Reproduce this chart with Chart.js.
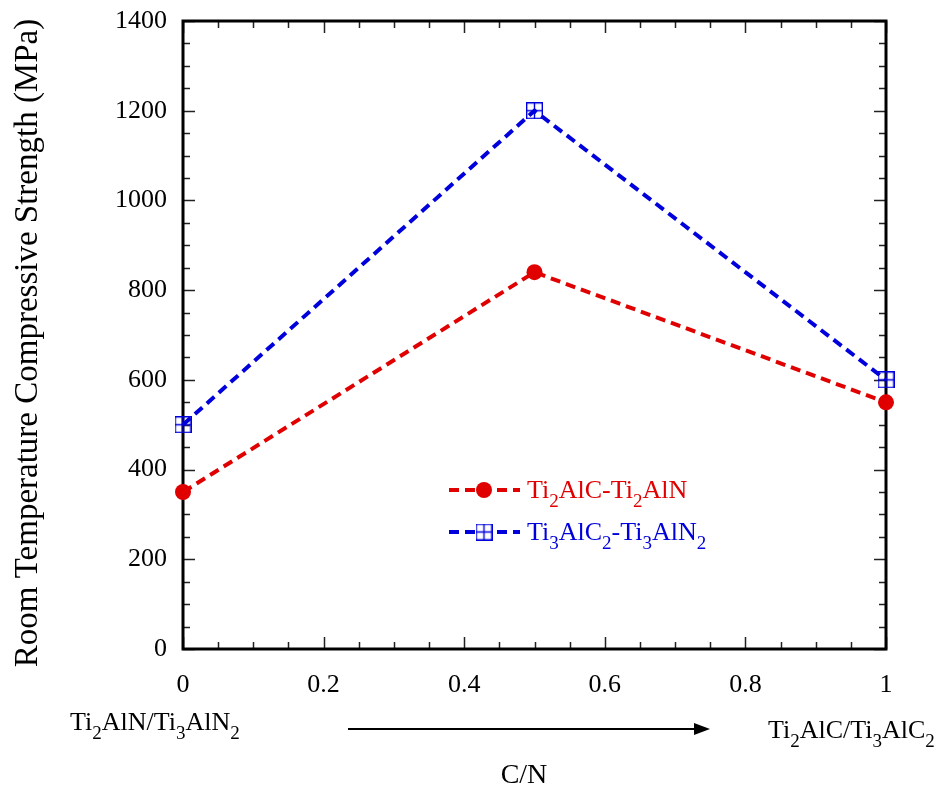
<!DOCTYPE html>
<html>
<head>
<meta charset="utf-8">
<script src="https://cdn.jsdelivr.net/npm/chart.js@4.4.1/dist/chart.umd.min.js"></script>
<style>
  html, body { margin: 0; padding: 0; background: #fff; }
  #wrap { width: 943px; height: 791px; position: relative; }
</style>
</head>
<body>
<div id="wrap"><canvas id="c" width="943" height="791"></canvas></div>
<script>
// C/N ratio along the solid-solution series
const cnRatio = [0, 0.5, 1];
// Room temperature compressive strength, MPa
const strength211 = [350, 840, 550];
const strength312 = [500, 1200, 600];
// Series names; "_d" marks a subscript digit
const seriesNames = ['Ti_2AlC-Ti_2AlN', 'Ti_3AlC_2-Ti_3AlN_2'];
// End-member labels under the x axis
const endLabels = ['Ti_2AlN/Ti_3AlN_2', 'Ti_2AlC/Ti_3AlC_2'];
const xTitle = 'C/N';
const yTitle = 'Room Temperature Compressive Strength (MPa)';

const FONT = '"Liberation Serif", "Times New Roman", serif';
const RED = '#e00000';
const BLUE = '#0000dd';

// open square split into four cells
function gridSquare(size, color) {
  const cv = document.createElement('canvas');
  cv.width = size; cv.height = size;
  const g = cv.getContext('2d');
  g.strokeStyle = color; g.lineWidth = 1.4;
  const a = 0.7, b = size - 0.7, m = size / 2;
  g.strokeRect(a, a, b - a, b - a);
  g.beginPath();
  g.moveTo(m, a); g.lineTo(m, b);
  g.moveTo(a, m); g.lineTo(b, m);
  g.stroke();
  return cv;
}
const squareMark = gridSquare(17, BLUE);

// text with "_d" subscripts
function richParts(text) {
  const parts = [];
  const re = /_(\d)/g;
  let last = 0, m;
  while ((m = re.exec(text))) {
    if (m.index > last) parts.push({ t: text.slice(last, m.index), sub: false });
    parts.push({ t: m[1], sub: true });
    last = re.lastIndex;
  }
  if (last < text.length) parts.push({ t: text.slice(last), sub: false });
  return parts;
}
function drawRich(ctx, text, x, y, size, color, align) {
  const parts = richParts(text);
  const subSize = Math.round(size * 0.72);
  let w = 0;
  parts.forEach(p => {
    ctx.font = (p.sub ? subSize : size) + 'px ' + FONT;
    p.w = ctx.measureText(p.t).width;
    w += p.w;
  });
  let cx = align === 'center' ? x - w / 2 : (align === 'right' ? x - w : x);
  ctx.fillStyle = color;
  ctx.textBaseline = 'alphabetic';
  ctx.textAlign = 'left';
  parts.forEach(p => {
    ctx.font = (p.sub ? subSize : size) + 'px ' + FONT;
    ctx.fillText(p.t, cx, p.sub ? y + size * 0.36 : y);
    cx += p.w;
  });
}

// frame with inward major/minor ticks on all four sides
const framePlugin = {
  id: 'frame',
  beforeDatasetsDraw(chart) {
    const { ctx, chartArea: ca, scales } = chart;
    const xs = scales.x, ys = scales.y;
    ctx.save();
    ctx.strokeStyle = '#222';
    ctx.lineWidth = 1.5;
    ctx.beginPath();
    for (let v = 0; v <= 1.0001; v += 0.05) {
      const px = Math.round(xs.getPixelForValue(v)) + 0.5;
      const major = Math.abs(v / 0.2 - Math.round(v / 0.2)) < 1e-6;
      const len = major ? 12 : 7;
      ctx.moveTo(px, ca.bottom); ctx.lineTo(px, ca.bottom - len);
      ctx.moveTo(px, ca.top); ctx.lineTo(px, ca.top + len);
    }
    for (let v = 0; v <= 1400; v += 50) {
      const py = Math.round(ys.getPixelForValue(v)) + 0.5;
      const len = v % 200 === 0 ? 12 : 7;
      ctx.moveTo(ca.left, py); ctx.lineTo(ca.left + len, py);
      ctx.moveTo(ca.right, py); ctx.lineTo(ca.right - len, py);
    }
    ctx.stroke();
    ctx.strokeStyle = '#000';
    ctx.lineWidth = 3;
    ctx.strokeRect(ca.left, ca.top, ca.right - ca.left, ca.bottom - ca.top);
    ctx.restore();
  },
  afterDraw(chart) {
    const { ctx } = chart;
    ctx.save();
    // legend
    const ds = chart.data.datasets;
    const lx0 = 449, lx1 = 520, lm = 484, ltx = 527;
    const rows = [490, 532];
    ds.forEach((d, i) => {
      const y = rows[i];
      ctx.strokeStyle = d.borderColor;
      ctx.lineWidth = 4;
      ctx.setLineDash([10, 6]);
      ctx.beginPath(); ctx.moveTo(lx0, y); ctx.lineTo(lx1, y); ctx.stroke();
      ctx.setLineDash([]);
      if (d.pointStyle === 'circle') {
        ctx.fillStyle = d.pointBackgroundColor;
        ctx.beginPath(); ctx.arc(lm, y, 8, 0, Math.PI * 2); ctx.fill();
      } else {
        ctx.fillStyle = '#fff';
        ctx.fillRect(lm - 8, y - 8, 16, 16);
        ctx.drawImage(d.pointStyle, lm - 8.5, y - 8.5);
      }
      drawRich(ctx, seriesNames[i], ltx, y + 8, 26, d.borderColor, 'left');
    });
    // y axis title
    ctx.save();
    ctx.translate(28, 343);
    ctx.rotate(-Math.PI / 2);
    ctx.font = '33px ' + FONT;
    ctx.fillStyle = '#000';
    ctx.textAlign = 'center';
    ctx.textBaseline = 'middle';
    ctx.fillText(yTitle, 0, 0);
    ctx.restore();
    // end-member labels, arrow and x axis title
    drawRich(ctx, endLabels[0], 70, 730, 26, '#000', 'left');
    drawRich(ctx, endLabels[1], 768, 738, 26, '#000', 'left');
    ctx.strokeStyle = '#000';
    ctx.lineWidth = 2;
    ctx.beginPath(); ctx.moveTo(348, 729); ctx.lineTo(696, 729); ctx.stroke();
    ctx.fillStyle = '#000';
    ctx.beginPath(); ctx.moveTo(710, 729); ctx.lineTo(694, 723); ctx.lineTo(694, 735); ctx.closePath(); ctx.fill();
    ctx.font = '28px ' + FONT;
    ctx.textAlign = 'center';
    ctx.textBaseline = 'alphabetic';
    ctx.fillText(xTitle, 524, 783);
    ctx.restore();
  }
};

new Chart(document.getElementById('c'), {
  type: 'line',
  data: {
    datasets: [
      {
        label: seriesNames[0],
        data: cnRatio.map((x, i) => ({ x, y: strength211[i] })),
        borderColor: RED,
        backgroundColor: RED,
        pointBackgroundColor: RED,
        pointBorderColor: RED,
        pointStyle: 'circle',
        pointRadius: 8,
        pointBorderWidth: 0,
        borderWidth: 4,
        borderDash: [10, 6],
        tension: 0,
        clip: false
      },
      {
        label: seriesNames[1],
        data: cnRatio.map((x, i) => ({ x, y: strength312[i] })),
        borderColor: BLUE,
        backgroundColor: BLUE,
        pointBackgroundColor: BLUE,
        pointStyle: squareMark,
        pointRadius: 8,
        borderWidth: 4,
        borderDash: [10, 6],
        tension: 0,
        clip: false
      }
    ]
  },
  options: {
    responsive: false,
    animation: false,
    layout: { padding: { top: 21, right: 57, left: 0, bottom: 0 } },
    plugins: { legend: { display: false }, tooltip: { enabled: false } },
    scales: {
      x: {
        type: 'linear', min: 0, max: 1,
        afterFit: s => { s.height = 142; s.paddingLeft = 0; s.paddingRight = 0; },
        grid: { display: false, drawTicks: false },
        border: { display: false },
        ticks: {
          stepSize: 0.2,
          padding: 21,
          color: '#000',
          font: { family: FONT, size: 26 },
          callback: v => String(Math.round(v * 10) / 10)
        }
      },
      y: {
        min: 0, max: 1400,
        afterFit: s => { s.width = 183; s.paddingTop = 0; s.paddingBottom = 0; },
        grid: { display: false, drawTicks: false },
        border: { display: false },
        ticks: {
          stepSize: 200,
          padding: 16,
          color: '#000',
          font: { family: FONT, size: 26 },
          callback: v => String(v)
        }
      }
    }
  },
  plugins: [framePlugin]
});
</script>
</body>
</html>
